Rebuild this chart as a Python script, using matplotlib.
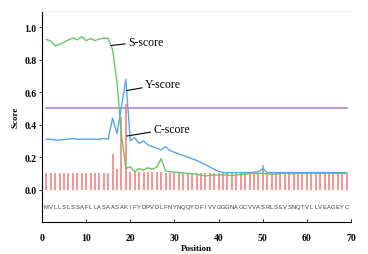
import matplotlib
matplotlib.use("Agg")
import matplotlib.pyplot as plt
import numpy as np

sequence = list("MVLLSLSSAFLLASAASAKIFYDPVDLFNYNQQYDFIVVGGGNAGCVVASRLSEVSNQTVLLVEAGEYC")
positions = list(range(1, 70))

c_score = [0.10, 0.10, 0.10, 0.10, 0.10, 0.10, 0.105, 0.10, 0.10, 0.10,
           0.10, 0.10, 0.10, 0.10, 0.10, 0.22, 0.13, 0.45, 0.53, 0.11,
           0.11, 0.11, 0.11, 0.11, 0.11, 0.11, 0.11, 0.10, 0.10, 0.10,
           0.10, 0.10, 0.10, 0.10, 0.10, 0.10, 0.10, 0.10, 0.10, 0.10,
           0.10, 0.10, 0.10, 0.10, 0.10, 0.10, 0.10, 0.10, 0.10, 0.15,
           0.10, 0.10, 0.10, 0.10, 0.10, 0.10, 0.10, 0.10, 0.10, 0.10,
           0.10, 0.10, 0.10, 0.10, 0.105, 0.10, 0.10, 0.10, 0.10]

s_score = [0.925, 0.915, 0.885, 0.893, 0.908, 0.922, 0.934, 0.922, 0.942, 0.918,
           0.930, 0.918, 0.928, 0.932, 0.932, 0.86, 0.66, 0.34, 0.13, 0.14,
           0.11, 0.13, 0.12, 0.135, 0.125, 0.14, 0.19, 0.115, 0.11, 0.108,
           0.105, 0.103, 0.10, 0.098, 0.095, 0.09, 0.083, 0.088, 0.09, 0.09,
           0.09, 0.09, 0.087, 0.09, 0.093, 0.095, 0.10, 0.10, 0.10, 0.10,
           0.097, 0.095, 0.095, 0.10, 0.10, 0.10, 0.096, 0.10, 0.10, 0.10,
           0.10, 0.10, 0.10, 0.10, 0.10, 0.10, 0.10, 0.10, 0.10]

y_score = [0.31, 0.31, 0.305, 0.305, 0.31, 0.31, 0.315, 0.31, 0.31, 0.31,
           0.31, 0.31, 0.31, 0.315, 0.31, 0.44, 0.345, 0.51, 0.68, 0.30,
           0.32, 0.285, 0.30, 0.275, 0.265, 0.255, 0.245, 0.265, 0.24, 0.23,
           0.22, 0.21, 0.20, 0.19, 0.18, 0.168, 0.155, 0.14, 0.125, 0.112,
           0.105, 0.105, 0.105, 0.105, 0.105, 0.105, 0.105, 0.108, 0.11, 0.13,
           0.105, 0.105, 0.105, 0.105, 0.105, 0.105, 0.105, 0.105, 0.105, 0.105,
           0.105, 0.105, 0.105, 0.105, 0.105, 0.105, 0.105, 0.105, 0.105]

cutoff = 0.5
xticks = [0, 10, 20, 30, 40, 50, 60, 70]
yticks = [0.0, 0.2, 0.4, 0.6, 0.8, 1.0]

serif = ["Liberation Serif", "DejaVu Serif"]

fig = plt.figure(figsize=(3.68, 2.55), dpi=100)
ax = fig.add_axes([0.114, 0.125, 0.840, 0.828])

ax.vlines(positions, 0, c_score, colors="#f27878", linewidth=1.1, zorder=2)
ax.plot(positions, s_score, color="#66c866", linewidth=1.0, zorder=3)
ax.plot(positions, y_score, color="#58a8e6", linewidth=1.0, zorder=3)
ax.plot([positions[0], positions[-1]], [cutoff, cutoff], color="#b286d6", linewidth=1.2, zorder=1)

for p, aa in zip(positions, sequence):
    ax.text(p, -0.105, aa, ha="center", va="center", fontsize=4.2,
            family="Liberation Sans", color="#3a3a3a", clip_on=True)

ann_kw = dict(fontsize=8.5, family=serif, va="center", ha="left",
              arrowprops=dict(arrowstyle="-", color="black", linewidth=0.8, shrinkA=0, shrinkB=0))
ax.annotate("S-score", xy=(15.6, 0.887), xytext=(19.5, 0.912), **ann_kw)
ax.annotate("Y-score", xy=(19.2, 0.61), xytext=(23.3, 0.65), **ann_kw)
ax.annotate("C-score", xy=(19.2, 0.33), xytext=(25.2, 0.375), **ann_kw)

ax.set_xlim(0, 70)
ax.set_ylim(-0.2, 1.1)
ax.set_xticks(xticks)
ax.set_yticks(yticks)
ax.set_yticklabels([f"{v:.1f}" for v in yticks])
for lab in ax.get_xticklabels() + ax.get_yticklabels():
    lab.set_family(serif)
    lab.set_fontweight("bold")
    lab.set_fontsize(7)
ax.tick_params(axis="x", direction="in", length=2, width=0.6, pad=8)
ax.tick_params(axis="y", direction="out", length=2, width=0.6, pad=2)

ax.set_xlabel("Position", family=serif, fontweight="bold", fontsize=6.5, labelpad=1)
ax.set_ylabel("Score", family=serif, fontweight="bold", fontsize=6.5, labelpad=3)

ax.spines["right"].set_visible(False)
ax.spines["top"].set_color("#eeeeee")
ax.spines["left"].set_linewidth(0.8)
ax.spines["bottom"].set_linewidth(0.8)

fig.savefig("out.png", dpi=100)
